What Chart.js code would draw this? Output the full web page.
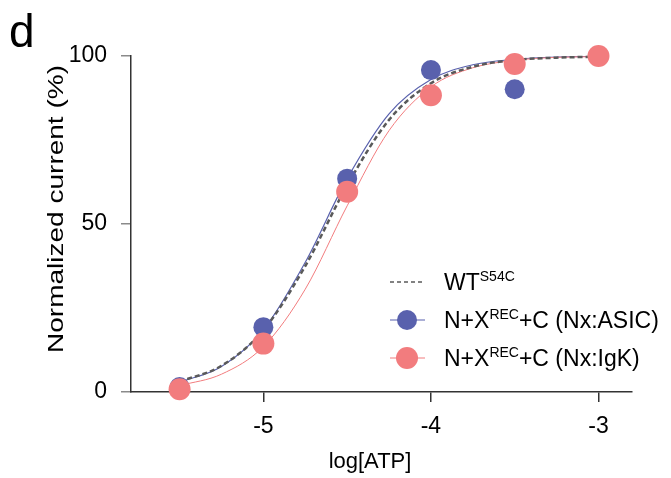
<!DOCTYPE html>
<html>
<head>
<meta charset="utf-8">
<script src="https://cdn.jsdelivr.net/npm/chart.js@4.4.1/dist/chart.umd.min.js"></script>
<style>
  body { margin: 0; background: #fff; }
</style>
</head>
<body>
<canvas id="doseChart" width="671" height="478"></canvas>
<script>
// Messpunkte (log[ATP] vs. normalisierter Strom)
const atpLevels = [-5.5, -5, -4.5, -4, -3.5, -3];
const asicValues = [1.5, 19.3, 63.5, 95.8, 90.1, 100];
const igkValues = [0.8, 14.4, 59.6, 88.3, 97.6, 100];

// Fit-Kurven
const fitLevels = [-5.5, -5.25, -5, -4.75, -4.5, -4.25, -4, -3.75, -3.5, -3.25, -3];
const wtFit = [3.1, 7.8, 18.4, 37.5, 61.5, 81.0, 91.9, 96.8, 98.8, 99.5, 99.8];
const asicFit = [2.9, 7.6, 18.5, 38.6, 63.5, 82.8, 93.0, 97.4, 99.0, 99.7, 99.9];
const igkFit = [1.9, 5.3, 13.5, 30.6, 55.4, 77.8, 90.8, 96.5, 98.7, 99.6, 99.8];

const xTicks = [-5, -4, -3];
const yTicks = [0, 50, 100];

const BLUE = "#5961ad";
const RED = "#f27c7e";
const GREY = "#5a5a5a";
const FONT = "'Liberation Sans', Arial, sans-serif";

const toPoints = (xs, ys) => xs.map((x, i) => ({ x: x, y: ys[i] }));

/* --------- Beschriftung + Legende --------- */
const labelsPlugin = {
  id: "labels",
  afterDraw(chart) {
    const c = chart.ctx;
    c.save();
    c.fillStyle = "#000";

    // Panel-Buchstabe
    c.font = "46px " + FONT;
    c.textBaseline = "alphabetic";
    c.textAlign = "left";
    c.fillText("d", 9, 47);

    // x-Titel
    c.font = "22px " + FONT;
    c.textAlign = "center";
    c.textBaseline = "middle";
    c.fillText("log[ATP]", 370, 462);

    // y-Titel
    const yTitle = "Normalized current (%)";
    c.save();
    c.translate(57, 209);
    c.rotate(-Math.PI / 2);
    c.font = "22px " + FONT;
    const w = c.measureText(yTitle).width;
    c.scale(288 / w, 1);
    c.fillText(yTitle, 0, 0);
    c.restore();

    // Legende
    const rows = [
      { y: 282, main: "WT", sup: "S54C", rest: "", dash: true },
      { y: 320, main: "N+X", sup: "REC", rest: "+C (Nx:ASIC)", color: BLUE, r: 10 },
      { y: 358, main: "N+X", sup: "REC", rest: "+C (Nx:IgK)", color: RED, r: 11 }
    ];
    rows.forEach(row => {
      c.beginPath();
      if (row.dash) {
        c.setLineDash([4, 3]);
        c.strokeStyle = GREY;
        c.lineWidth = 1.5;
      } else {
        c.setLineDash([]);
        c.strokeStyle = row.color;
        c.lineWidth = 1.2;
      }
      c.moveTo(390, row.y);
      c.lineTo(425, row.y);
      c.stroke();
      c.setLineDash([]);
      if (row.color) {
        c.beginPath();
        c.fillStyle = row.color;
        c.arc(407, row.y, row.r, 0, Math.PI * 2);
        c.fill();
      }
      c.fillStyle = "#000";
      c.textAlign = "left";
      c.textBaseline = "alphabetic";
      let x = 444;
      const base = row.y + 8;
      c.font = "23px " + FONT;
      c.fillText(row.main, x, base);
      x += c.measureText(row.main).width;
      c.font = "14px " + FONT;
      c.fillText(row.sup, x, base - 9);
      x += c.measureText(row.sup).width;
      c.font = "23px " + FONT;
      c.fillText(row.rest, x, base);
    });

    c.restore();
  }
};

new Chart(document.getElementById("doseChart"), {
  type: "scatter",
  data: {
    datasets: [
      {
        label: "IgK",
        data: toPoints(atpLevels, igkValues),
        backgroundColor: RED,
        borderWidth: 0,
        pointRadius: 11,
        pointHoverRadius: 11,
        clip: false,
        order: 0
      },
      {
        label: "ASIC",
        data: toPoints(atpLevels, asicValues),
        backgroundColor: BLUE,
        borderWidth: 0,
        pointRadius: 10,
        pointHoverRadius: 10,
        clip: false,
        order: 1
      },
      {
        label: "WT fit",
        data: toPoints(fitLevels, wtFit),
        showLine: true,
        borderColor: GREY,
        borderWidth: 2.5,
        borderDash: [5, 3],
        pointRadius: 0,
        cubicInterpolationMode: "monotone",
        clip: false,
        order: 2
      },
      {
        label: "IgK fit",
        data: toPoints(fitLevels, igkFit),
        showLine: true,
        borderColor: RED,
        borderWidth: 1,
        pointRadius: 0,
        cubicInterpolationMode: "monotone",
        clip: false,
        order: 3
      },
      {
        label: "ASIC fit",
        data: toPoints(fitLevels, asicFit),
        showLine: true,
        borderColor: BLUE,
        borderWidth: 1.2,
        pointRadius: 0,
        cubicInterpolationMode: "monotone",
        clip: false,
        order: 4
      }
    ]
  },
  options: {
    responsive: false,
    animation: false,
    layout: { padding: { left: 0, top: 56, right: 39, bottom: 0 } },
    plugins: {
      legend: { display: false },
      tooltip: { enabled: false }
    },
    scales: {
      x: {
        type: "linear",
        min: -5.79,
        max: -2.8,
        afterBuildTicks: scale => { scale.ticks = xTicks.map(v => ({ value: v })); },
        afterFit: scale => { scale.height = 86; },
        grid: { drawOnChartArea: false, tickLength: 10, color: "#333", lineWidth: 1.5 },
        border: { display: true, color: "#333", width: 1.5 },
        ticks: { color: "#000", padding: 11, font: { size: 23, family: FONT } }
      },
      y: {
        min: 0,
        max: 100,
        afterBuildTicks: scale => { scale.ticks = yTicks.map(v => ({ value: v })); },
        afterFit: scale => { scale.width = 131; },
        grid: { drawOnChartArea: false, tickLength: 10, color: "#8a8a8a", lineWidth: 1.5 },
        border: { display: true, color: "#333", width: 1.5 },
        ticks: { color: "#000", padding: 14, font: { size: 23, family: FONT } }
      }
    }
  },
  plugins: [labelsPlugin]
});
</script>
</body>
</html>
